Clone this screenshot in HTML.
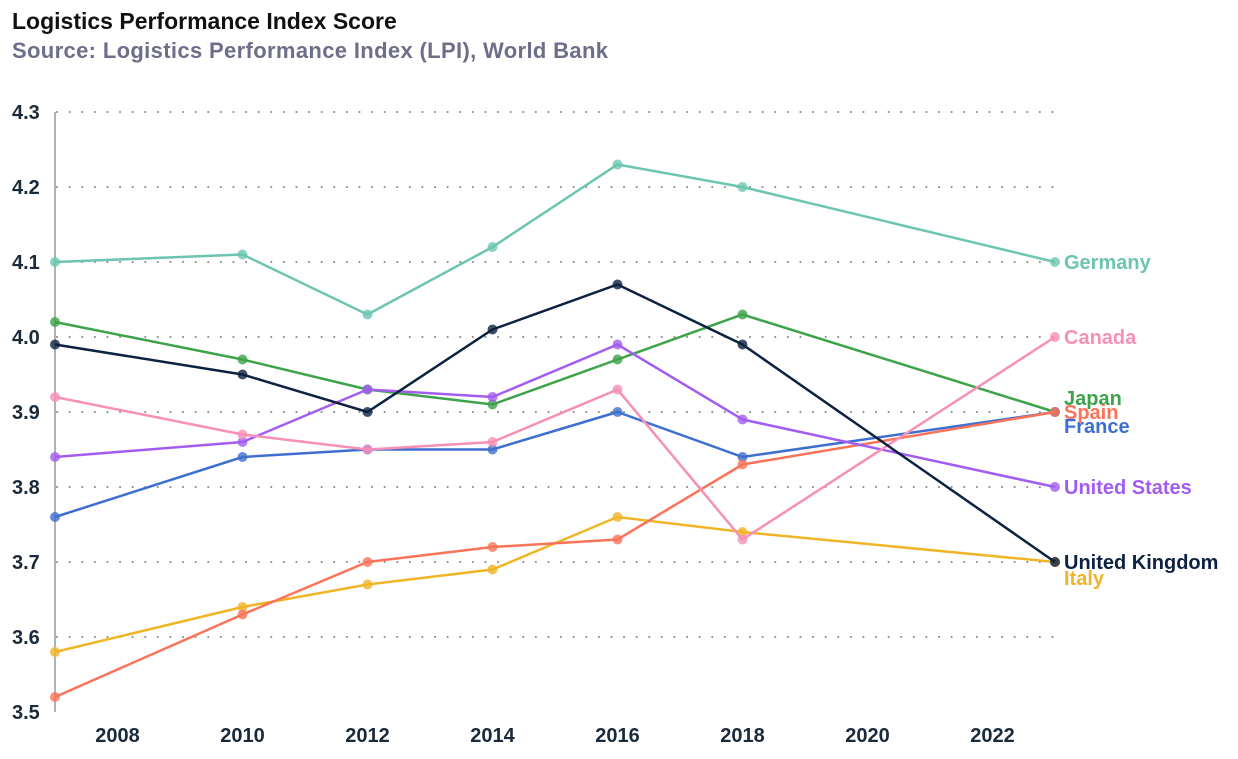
<!DOCTYPE html>
<html><head><meta charset="utf-8"><style>
body{margin:0;background:#fff;font-family:"Liberation Sans",sans-serif}
svg text{font-family:"Liberation Sans",sans-serif}
</style></head><body>
<svg id="chart" width="1238" height="754" xmlns="http://www.w3.org/2000/svg">
<text x="12" y="29" font-size="23" font-weight="bold" fill="#111">Logistics Performance Index Score</text>
<text x="12" y="58" font-size="22" font-weight="bold" fill="#6e6e8a" letter-spacing="0.35">Source: Logistics Performance Index (LPI), World Bank</text>
<g id="grid"></g><g id="axes"></g><g id="series"></g>
</svg>
<script>
const years=[2007,2010,2012,2014,2016,2018,2023];
const yTicks=[3.5,3.6,3.7,3.8,3.9,4.0,4.1,4.2,4.3];
const xTicks=[2008,2010,2012,2014,2016,2018,2020,2022];
const countries=["Germany","United Kingdom","Japan","United States","Canada","France","Spain","Italy"];
const germany=[4.10,4.11,4.03,4.12,4.23,4.20,4.10];
const uk=[3.99,3.95,3.90,4.01,4.07,3.99,3.70];
const japan=[4.02,3.97,3.93,3.91,3.97,4.03,3.90];
const us=[3.84,3.86,3.93,3.92,3.99,3.89,3.80];
const canada=[3.92,3.87,3.85,3.86,3.93,3.73,4.00];
const france=[3.76,3.84,3.85,3.85,3.90,3.84,3.90];
const spain=[3.52,3.63,3.70,3.72,3.73,3.83,3.90];
const italy=[3.58,3.64,3.67,3.69,3.76,3.74,3.70];
const values=[germany,uk,japan,us,canada,france,spain,italy];
const colors=["#6cc5b0","#0d2240","#3ca34a","#a35cf0","#f78fb6","#3e6fd0","#fb7359","#f0b527"];
const labelOffsets=[0,0,-14,0,0,14,0,16];
const drawOrder=[7,0,2,5,6,3,4,1];
const NS="http://www.w3.org/2000/svg";
const x=v=>55+(v-2007)*62.5;
const y=v=>712-(v-3.5)*750;
function mk(t,a,p){const e=document.createElementNS(NS,t);for(const k in a)e.setAttribute(k,a[k]);p.appendChild(e);return e;}
const grid=document.getElementById('grid'),axes=document.getElementById('axes'),ser=document.getElementById('series');
yTicks.forEach(t=>{
 if(t>3.5){const l=mk('line',{x1:57,x2:1055,y1:y(t),y2:y(t),stroke:'#888','stroke-width':2,'stroke-dasharray':'0.1 12.5','stroke-linecap':'round'},grid);
 }
 const tx=mk('text',{x:12,y:y(t)+7,'font-size':20,'font-weight':'bold',fill:'#1b2a3a'},axes);tx.textContent=t.toFixed(1);
 
});
const ax=mk('line',{x1:55,x2:55,y1:112,y2:712,stroke:'#999','stroke-width':1.5},axes);

xTicks.forEach(t=>{const tx=mk('text',{x:x(t),y:742,'font-size':20,'font-weight':'bold',fill:'#1b2a3a','text-anchor':'middle'},axes);tx.textContent=t;
 });
drawOrder.forEach(i=>{
 const vals=values[i];
 const g=mk('g',{},ser);
 const pl=mk('polyline',{points:vals.map((v,j)=>x(years[j])+','+y(v)).join(' '),fill:'none',stroke:colors[i],'stroke-width':2.5},g);
 
 vals.forEach((v,j)=>{const c=mk('circle',{cx:x(years[j]),cy:y(v),r:5,fill:colors[i],'fill-opacity':0.8},g);
  });
 const tx=mk('text',{x:1064,y:y(vals[vals.length-1])+7+labelOffsets[i],'font-size':20,'font-weight':'bold',fill:colors[i]},g);tx.textContent=countries[i];
 
});
</script>
</body></html>
